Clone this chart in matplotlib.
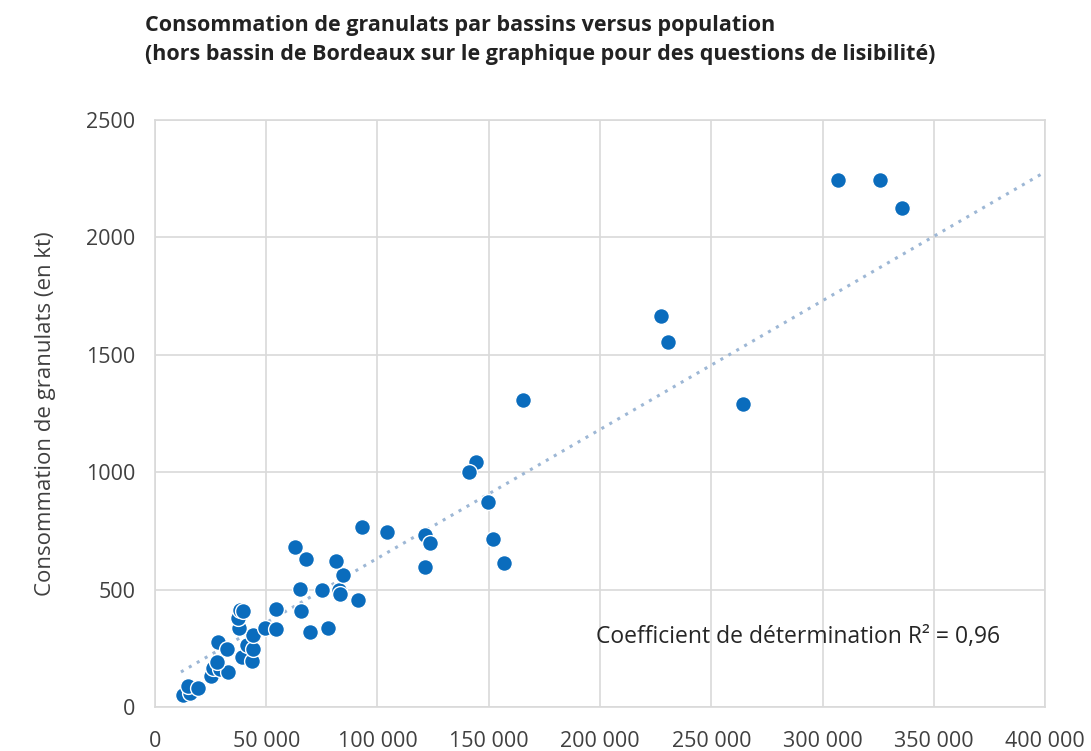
import numpy as np
import matplotlib.pyplot as plt

# -------------------------
# Data
# -------------------------
population = [12700, 15700, 15000, 19200, 25000, 26200, 29200, 32900, 27700, 28200,
              32200, 39000, 43700, 41200, 43900, 44200, 37900, 37400, 38200, 39700,
              49400, 54400, 54200, 69700, 77900, 65200, 65500, 74900, 82800, 83100,
              84400, 81300, 67900, 62900, 91400, 92900, 104100, 121300, 123600, 121300,
              165200, 144300, 141300, 149800, 152000, 156800,
              227400, 230400, 264400, 306800, 325800, 335800]
conso = [51, 58, 89, 80, 133, 165, 161, 150, 193, 278,
         246, 214, 196, 264, 246, 307, 335, 378, 413, 410,
         335, 331, 416, 321, 338, 503, 409, 498, 498, 481,
         562, 623, 629, 683, 456, 765, 744, 733, 697, 595,
         1307, 1045, 1002, 874, 714, 612,
         1665, 1556, 1289, 2244, 2244, 2124]

# linear trend shown on the chart (fit includes Bordeaux, not plotted)
trend_slope = 0.005485
trend_intercept = 85
trend_range = [11700, 400000]

x_ticks = [0, 50000, 100000, 150000, 200000, 250000, 300000, 350000, 400000]
x_labels = ["0", "50 000", "100 000", "150 000", "200 000", "250 000",
            "300 000", "350 000", "400 000"]
y_ticks = [0, 500, 1000, 1500, 2000, 2500]
r2_text = "Coefficient de détermination R² = 0,96"

title = ("Consommation de granulats par bassins versus population\n"
         "(hors bassin de Bordeaux sur le graphique pour des questions de lisibilité)")

# -------------------------
# Plot
# -------------------------
plt.rcParams['font.family'] = ['Open Sans', 'DejaVu Sans']

fig = plt.figure(figsize=(10.91, 7.51), dpi=100)
ax = fig.add_axes([0.142, 0.0586, 0.816, 0.7816])

xt = np.array(trend_range)
ax.plot(xt, trend_slope * xt + trend_intercept, linestyle=(0, (1, 2)),
        color="#9db7d5", linewidth=2.2, zorder=2)

ax.scatter(population, conso, s=130, color="#0a6cbd", edgecolor="white",
           linewidth=1.0, zorder=3)

ax.set_xlim(0, 400000)
ax.set_ylim(0, 2500)
ax.set_xticks(x_ticks)
ax.set_xticklabels(x_labels)
ax.set_yticks(y_ticks)
ax.tick_params(length=0, labelsize=15.5, labelcolor="#404040")
ax.tick_params(axis="x", pad=17)
ax.tick_params(axis="y", pad=14)
ax.grid(True, color="#d9d9d9", linewidth=1.2, zorder=0)
ax.set_axisbelow(True)
for s in ax.spines.values():
    s.set_color("#d9d9d9")
    s.set_linewidth(1.2)

ax.set_ylabel("Consommation de granulats (en kt)", fontsize=16,
              color="#404040", labelpad=22)

ax.text(0.949, 0.119, r2_text, transform=ax.transAxes, ha="right", va="center",
        fontsize=16.5, color="#262626")

fig.text(0.133, 0.98, title, ha="left", va="top", fontsize=15.5,
         fontweight="bold", color="#222222", linespacing=1.5)

plt.savefig("out.png", dpi=100)
plt.close()
